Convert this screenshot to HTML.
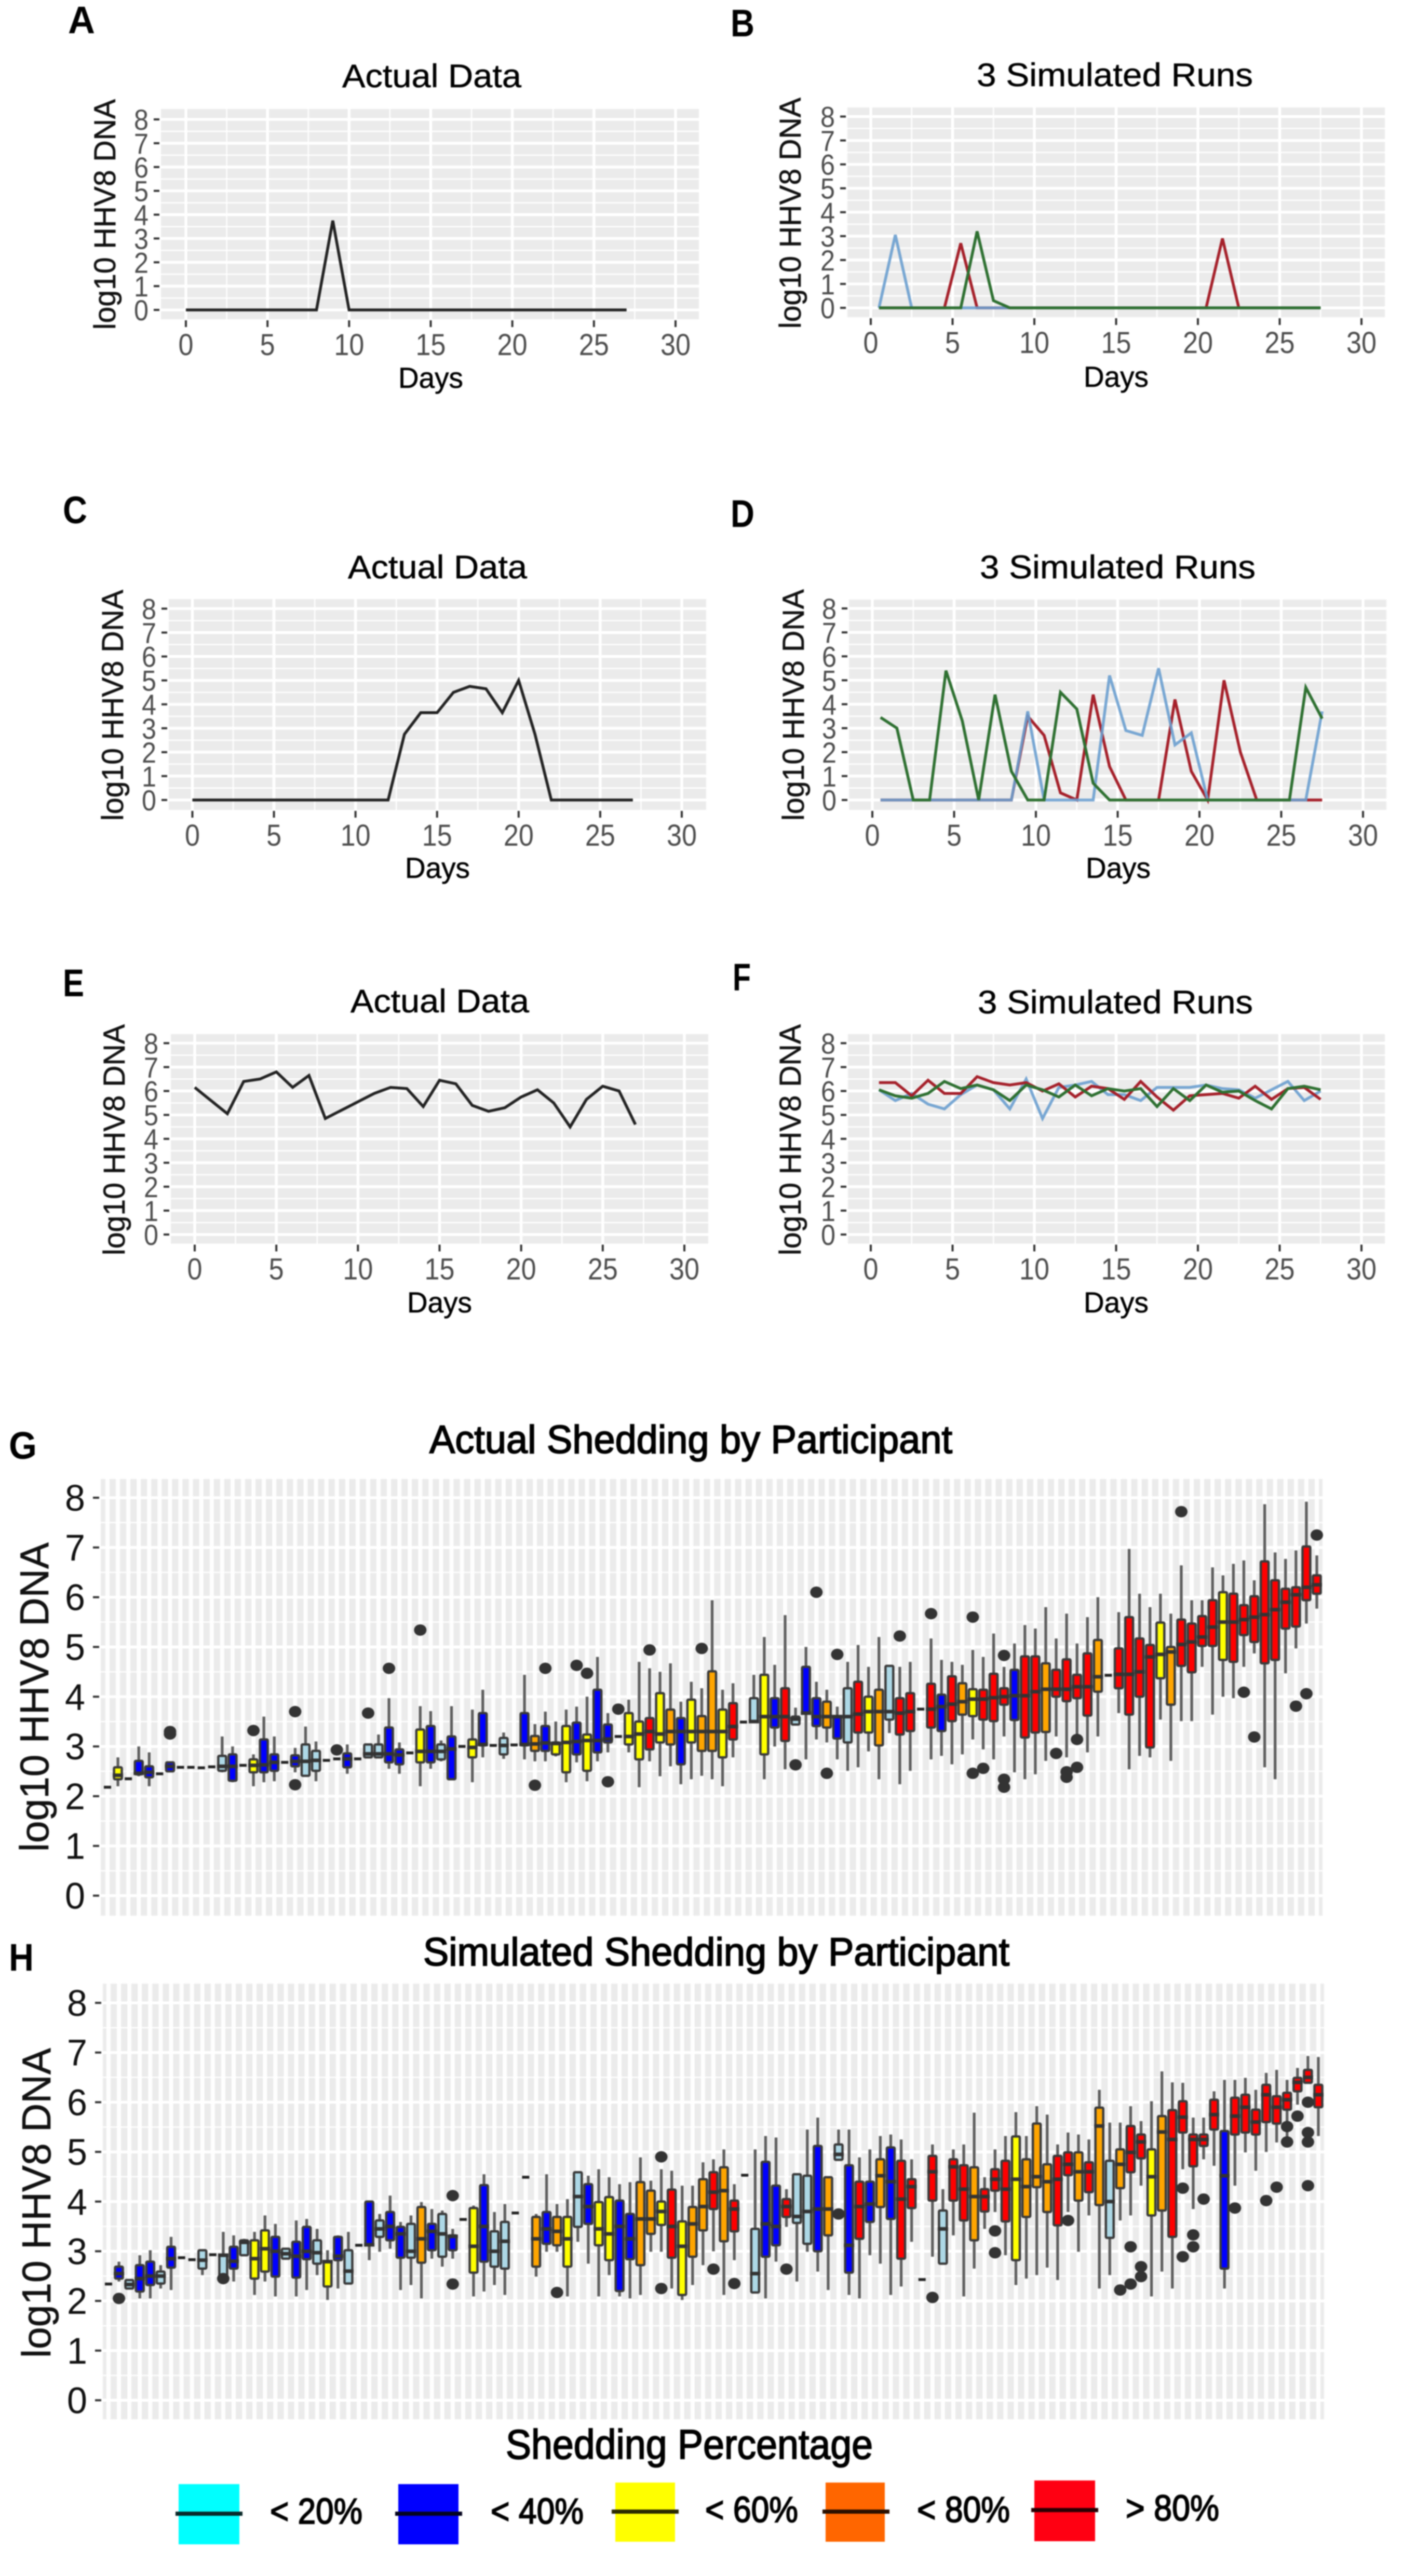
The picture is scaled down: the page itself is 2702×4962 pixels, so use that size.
<!DOCTYPE html>
<html lang="en">
<head>
<meta charset="utf-8">
<title>HHV8 shedding: actual and simulated</title>
<style>
html,body{margin:0;padding:0;background:#fff;}
svg{display:block;filter:blur(1.4px);font-family:"Liberation Sans",sans-serif;}
.letter{font-weight:bold;font-size:74px;fill:#000;}
.title{font-size:63px;fill:#000;stroke:#000;stroke-width:0.6px;}
.ylab{font-size:58px;fill:#111;stroke:#111;stroke-width:0.6px;}
.days{font-size:56px;fill:#000;stroke:#000;stroke-width:0.6px;}
.bigtitle{font-size:76px;fill:#000;stroke:#000;stroke-width:2px;}
.bigylab{font-size:78px;fill:#111;stroke:#111;stroke-width:0.6px;}
.legtitle{font-size:80px;fill:#000;stroke:#000;stroke-width:2px;}
.leglabel{font-size:70px;fill:#000;stroke:#000;stroke-width:2px;}
</style>
</head>
<body>
<svg id="figure" xmlns="http://www.w3.org/2000/svg" width="2702" height="4962" viewBox="0 0 2702 4962">
  <rect x="0" y="0" width="2702" height="4962" fill="#ffffff"/>
  <g id="marks"></g>

  <text class="letter" x="131" y="64" textLength="52" lengthAdjust="spacingAndGlyphs">A</text>
  <text class="letter" x="1407" y="70" textLength="46" lengthAdjust="spacingAndGlyphs">B</text>
  <text class="letter" x="121" y="1008" textLength="47" lengthAdjust="spacingAndGlyphs">C</text>
  <text class="letter" x="1407" y="1015" textLength="46" lengthAdjust="spacingAndGlyphs">D</text>
  <text class="letter" x="121" y="1919" textLength="41" lengthAdjust="spacingAndGlyphs">E</text>
  <text class="letter" x="1411" y="1908" textLength="35" lengthAdjust="spacingAndGlyphs">F</text>
  <text class="letter" x="17" y="2810" textLength="54" lengthAdjust="spacingAndGlyphs">G</text>
  <text class="letter" x="17" y="3796" textLength="48" lengthAdjust="spacingAndGlyphs">H</text>

  <text class="title" x="659" y="168" textLength="345" lengthAdjust="spacingAndGlyphs">Actual Data</text>
  <text class="title" x="1881" y="166" textLength="532" lengthAdjust="spacingAndGlyphs">3 Simulated Runs</text>
  <text class="title" x="670" y="1114" textLength="345" lengthAdjust="spacingAndGlyphs">Actual Data</text>
  <text class="title" x="1887" y="1114" textLength="531" lengthAdjust="spacingAndGlyphs">3 Simulated Runs</text>
  <text class="title" x="675" y="1950" textLength="344" lengthAdjust="spacingAndGlyphs">Actual Data</text>
  <text class="title" x="1883" y="1952" textLength="530" lengthAdjust="spacingAndGlyphs">3 Simulated Runs</text>

  <text class="ylab" transform="translate(222,635) rotate(-90)" textLength="444" lengthAdjust="spacingAndGlyphs">log10 HHV8 DNA</text>
  <text class="ylab" transform="translate(1542,633) rotate(-90)" textLength="445" lengthAdjust="spacingAndGlyphs">log10 HHV8 DNA</text>
  <text class="ylab" transform="translate(237,1581) rotate(-90)" textLength="445" lengthAdjust="spacingAndGlyphs">log10 HHV8 DNA</text>
  <text class="ylab" transform="translate(1548,1581) rotate(-90)" textLength="446" lengthAdjust="spacingAndGlyphs">log10 HHV8 DNA</text>
  <text class="ylab" transform="translate(240,2418) rotate(-90)" textLength="445" lengthAdjust="spacingAndGlyphs">log10 HHV8 DNA</text>
  <text class="ylab" transform="translate(1542,2418) rotate(-90)" textLength="445" lengthAdjust="spacingAndGlyphs">log10 HHV8 DNA</text>

  <text class="days" x="767" y="747" textLength="125" lengthAdjust="spacingAndGlyphs">Days</text>
  <text class="days" x="2087" y="745" textLength="125" lengthAdjust="spacingAndGlyphs">Days</text>
  <text class="days" x="780" y="1691" textLength="125" lengthAdjust="spacingAndGlyphs">Days</text>
  <text class="days" x="2091" y="1691" textLength="125" lengthAdjust="spacingAndGlyphs">Days</text>
  <text class="days" x="784" y="2528" textLength="125" lengthAdjust="spacingAndGlyphs">Days</text>
  <text class="days" x="2087" y="2528" textLength="125" lengthAdjust="spacingAndGlyphs">Days</text>

  <text class="bigtitle" x="827" y="2799" textLength="1007" lengthAdjust="spacingAndGlyphs">Actual Shedding by Participant</text>
  <text class="bigtitle" x="815" y="3786" textLength="1129" lengthAdjust="spacingAndGlyphs">Simulated Shedding by Participant</text>
  <text class="bigylab" transform="translate(93,3567) rotate(-90)" textLength="596" lengthAdjust="spacingAndGlyphs">log10 HHV8 DNA</text>
  <text class="bigylab" transform="translate(97,4542) rotate(-90)" textLength="597" lengthAdjust="spacingAndGlyphs">log10 HHV8 DNA</text>

  <g>
    <text class="legtitle" x="974" y="4736" textLength="707" lengthAdjust="spacingAndGlyphs">Shedding Percentage</text>
    <g>
      <rect x="344" y="4785" width="117" height="116" fill="#00FFFF"/>
      <rect x="338" y="4838" width="129" height="8" fill="#0a2a2a"/>
      <text class="leglabel" x="520" y="4861" textLength="178" lengthAdjust="spacingAndGlyphs">&lt; 20%</text>
    </g>
    <g>
      <rect x="767" y="4785" width="116" height="116" fill="#0000FF"/>
      <rect x="761" y="4838" width="129" height="8" fill="#05051f"/>
      <text class="leglabel" x="945" y="4861" textLength="179" lengthAdjust="spacingAndGlyphs">&lt; 40%</text>
    </g>
    <g>
      <rect x="1185" y="4782" width="115" height="114" fill="#FFFF00"/>
      <rect x="1178" y="4834" width="129" height="8" fill="#2a2a00"/>
      <text class="leglabel" x="1358" y="4858" textLength="179" lengthAdjust="spacingAndGlyphs">&lt; 60%</text>
    </g>
    <g>
      <rect x="1590" y="4782" width="114" height="114" fill="#FF6600"/>
      <rect x="1584" y="4834" width="129" height="8" fill="#2a1000"/>
      <text class="leglabel" x="1766" y="4858" textLength="179" lengthAdjust="spacingAndGlyphs">&lt; 80%</text>
    </g>
    <g>
      <rect x="1992" y="4778" width="117" height="117" fill="#FF0012"/>
      <rect x="1986" y="4831" width="129" height="8" fill="#2a0004"/>
      <text class="leglabel" x="2168" y="4855" textLength="180" lengthAdjust="spacingAndGlyphs">&gt; 80%</text>
    </g>
  </g>
</svg>

<script>
// ---------- shared tick labels ----------
const yTickLabels = [0, 1, 2, 3, 4, 5, 6, 7, 8];
const xTickLabels = [0, 5, 10, 15, 20, 25, 30];
const xMinorTicks = [2.5, 7.5, 12.5, 17.5, 22.5, 27.5];
const yMinorTicks = [0.5, 1.5, 2.5, 3.5, 4.5, 5.5, 6.5, 7.5];

// ---------- time-series data ----------
const actualDays = [0,1,2,3,4,5,6,7,8,9,10,11,12,13,14,15,16,17,18,19,20,21,22,23,24,25,26,27];
const simDays = [0.5,1.5,2.5,3.5,4.5,5.5,6.5,7.5,8.5,9.5,10.5,11.5,12.5,13.5,14.5,15.5,16.5,17.5,18.5,19.5,20.5,21.5,22.5,23.5,24.5,25.5,26.5,27.5];

const panelAActual = [0,0,0,0,0,0,0,0,0,3.75,0,0,0,0,0,0,0,0,0,0,0,0,0,0,0,0,0,0];
const panelBRed = [0,0,0,0,0,2.7,0,0,0,0,0,0,0,0,0,0,0,0,0,0,0,2.9,0,0,0,0,0,0];
const panelBBlue = [0,3.05,0,0,0,0,0,0,0,0,0,0,0,0,0,0,0,0,0,0,0,0,0,0,0,0,0,0];
const panelBGreen = [0,0,0,0,0,0,3.2,0.3,0,0,0,0,0,0,0,0,0,0,0,0,0,0,0,0,0,0,0,0];

const panelCActual = [0,0,0,0,0,0,0,0,0,0,0,0,0,2.75,3.65,3.65,4.5,4.75,4.65,3.65,5.0,2.75,0,0,0,0,0,0];
const panelDRed = [0,0,0,0,0,0,0,0,0,3.5,2.7,0.3,0,4.4,1.4,0,0,0,4.2,1.2,0,5.0,2.0,0,0,0,0,0];
const panelDBlue = [0,0,0,0,0,0,0,0,0,3.7,0,0,0,0,5.2,2.9,2.7,5.5,2.3,2.8,0,0,0,0,0,0,0,3.7];
const panelDGreen = [3.45,3.0,0,0,5.4,3.3,0,4.4,1.2,0,0,4.5,3.8,0.7,0,0,0,0,0,0,0,0,0,0,0,0,4.7,3.4];

const panelEActual = [6.15,5.6,5.05,6.4,6.5,6.8,6.15,6.65,4.85,5.2,5.55,5.9,6.15,6.1,5.35,6.45,6.3,5.4,5.15,5.3,5.75,6.05,5.5,4.5,5.65,6.2,6.0,4.6];
const panelFRed = [6.35,6.35,5.8,6.45,5.9,5.9,6.6,6.35,6.25,6.35,6.0,6.3,5.75,6.2,6.1,5.65,6.4,5.75,5.2,5.8,5.85,5.9,5.7,6.2,5.65,6.1,6.15,5.65];
const panelFBlue = [6.05,5.6,5.9,5.45,5.25,5.85,6.25,6.05,5.25,6.5,4.85,6.15,6.25,6.4,5.85,5.85,5.6,6.15,6.15,6.15,6.25,6.1,6.05,5.7,6.05,6.4,5.6,6.0];
const panelFGreen = [6.05,5.8,5.7,5.9,6.4,6.1,6.25,6.05,5.6,6.25,6.05,5.75,6.25,5.8,6.1,6.0,6.1,5.35,6.1,5.6,6.25,5.95,6.0,5.6,5.25,6.1,6.2,6.05];

// ---------- panel G boxplot data (one entry per participant) ----------
// band: 0 <20%, 1 <40%, 2 <60%, 3 <80%, 4 >80%
const gBand = [0,2,0,1,1,0,1,0,0,0, 0,0,1,0,2,1,1,0,1,0, 0,0,0,1,0,0,0,1,1,0, 2,1,0,1,0,2,1,0,0,0, 1,3,1,2,2,1,2,1,1,1, 2,2,4,2,3,1,2,3,3,2, 4,0,0,2,1,4,0,1,1,3, 1,0,4,2,3,0,4,4,0,4, 1,4,3,2,4,4,4,1,4,4, 3,4,4,4,4,3,0,4,4,4, 4,2,3,4,4,4,4,2,4,4, 4,4,4,4,4,4,4];
const gQ1 = [2.18,2.34,2.35,2.44,2.38,2.45,2.5,2.58,2.58,2.57,
2.59,2.51,2.31,2.62,2.48,2.48,2.51,2.68,2.6,2.41,
2.51,2.72,2.75,2.58,2.75,2.78,2.78,2.68,2.64,2.87,
2.68,2.68,2.74,2.34,3.0,2.78,3.02,3.02,2.84,3.03,
3.02,2.91,2.91,2.84,2.48,2.84,2.51,2.88,3.08,3.2,
3.04,2.74,2.94,3.08,3.04,2.64,3.08,2.91,2.91,2.78,
3.14,3.49,3.51,2.84,3.38,3.11,3.44,3.68,3.41,3.38,
3.16,3.08,3.28,3.28,3.02,3.54,3.24,3.31,3.75,3.38,
3.31,3.51,3.64,3.61,3.54,3.51,3.84,3.53,3.18,3.28,
3.29,4.0,3.91,3.97,3.62,4.1,4.43,4.17,3.64,4.0,
2.98,4.37,3.84,4.62,4.49,5.02,5.02,4.74,4.7,5.24,
5.1,4.67,4.74,5.37,5.41,5.94,6.07];
const gMedian = [2.18,2.42,2.35,2.46,2.48,2.45,2.6,2.58,2.58,2.57,
2.59,2.6,2.6,2.62,2.62,2.63,2.68,2.68,2.7,2.7,
2.72,2.72,2.75,2.75,2.75,2.85,2.85,2.85,2.83,2.87,
2.9,2.9,2.9,2.95,3.0,2.98,3.04,3.02,3.02,3.03,
3.04,3.05,3.07,3.06,3.08,3.1,3.12,3.12,3.15,3.2,
3.2,3.25,3.3,3.25,3.3,3.3,3.3,3.3,3.3,3.3,
3.4,3.49,3.5,3.6,3.6,3.6,3.55,3.67,3.6,3.6,
3.6,3.6,3.65,3.7,3.7,3.7,3.67,3.7,3.75,3.75,
3.8,3.85,3.9,3.95,3.95,3.98,4.0,4.02,4.02,4.1,
4.15,4.15,4.15,4.2,4.2,4.4,4.43,4.45,4.45,4.5,
4.8,4.85,4.9,5.05,5.1,5.2,5.4,5.5,5.5,5.55,
5.6,5.65,5.75,5.9,6.05,6.2,6.25];
const gQ3 = [2.18,2.58,2.35,2.71,2.6,2.45,2.68,2.58,2.58,2.57,
2.59,2.81,2.84,2.62,2.74,3.14,2.84,2.68,2.82,3.04,
2.91,2.72,2.75,2.86,2.75,3.04,3.04,3.38,2.94,2.87,
3.34,3.41,3.04,3.2,3.0,3.14,3.67,3.02,3.17,3.03,
3.67,3.21,3.41,3.08,3.41,3.48,3.24,4.14,3.44,3.2,
3.67,3.5,3.57,4.07,3.74,3.57,3.94,3.61,4.51,3.74,
3.87,3.49,3.97,4.44,3.97,4.17,3.6,4.6,3.97,3.9,
3.6,4.17,4.3,4.0,4.14,4.62,3.97,4.07,3.75,4.26,
4.04,4.41,4.27,4.15,4.14,4.46,4.17,4.54,4.81,4.81,
4.67,4.54,4.75,4.44,4.87,5.14,4.43,4.97,5.6,5.17,
5.04,5.49,5.0,5.55,5.47,5.62,5.94,6.1,6.07,5.84,
6.02,6.72,6.34,6.17,6.2,7.02,6.44];
const gLow = [2.18,2.2,2.35,2.4,2.2,2.45,2.5,2.58,2.58,2.57,
2.59,2.48,2.28,2.62,2.2,2.28,2.3,2.68,2.48,2.41,
2.3,2.72,2.75,2.45,2.75,2.78,2.78,2.55,2.45,2.87,
2.2,2.55,2.7,2.34,3.0,2.28,2.78,3.02,2.75,3.03,
2.74,2.7,2.7,2.8,2.28,2.68,2.3,2.7,2.88,3.2,
2.88,2.18,2.7,2.4,2.6,2.24,2.34,2.41,2.34,2.2,
2.78,3.49,3.51,2.34,3.0,2.54,3.44,2.74,3.14,3.08,
2.74,2.51,2.58,2.9,2.34,3.27,2.24,2.51,3.75,2.74,
2.81,2.64,2.84,3.14,2.94,2.74,3.2,2.48,2.34,2.44,
2.71,3.2,2.78,3.24,2.88,3.2,4.43,3.67,2.54,2.81,
2.78,3.54,2.71,3.51,3.51,4.6,3.64,4.0,3.97,4.6,
4.87,2.58,2.34,4.47,4.97,5.47,5.77];
const gHigh = [2.18,2.78,2.35,3.0,2.88,2.45,2.68,2.58,2.58,2.57,
2.59,3.2,3.0,2.62,2.84,3.6,3.2,2.68,2.97,3.4,
3.1,2.72,2.75,3.04,2.75,3.04,3.24,3.97,3.08,2.87,
3.81,3.71,3.12,3.81,3.0,3.74,4.14,3.02,3.28,3.03,
4.44,3.45,3.7,3.5,3.74,3.8,4.0,4.8,3.67,3.2,
3.94,4.7,4.57,4.5,4.67,3.9,4.3,4.17,5.94,4.14,
4.27,3.49,4.44,5.2,4.64,5.64,3.78,5.0,4.3,4.14,
3.8,4.7,5.04,4.6,5.2,4.62,4.6,4.7,3.75,5.17,
4.74,4.7,4.64,4.94,4.8,5.27,4.6,5.07,5.44,5.37,
5.8,5.17,5.67,5.07,5.6,6.0,4.43,5.7,6.97,6.07,
5.8,6.07,5.67,6.64,5.94,5.94,6.6,6.44,6.67,6.74,
6.34,7.87,6.9,6.77,6.94,7.92,6.84];
const gOutlierParticipant = [6,6,14,18,18,22,25,27,30,41,42,45,46,48,49,52,57,66,68,69,70,76,79,83,83,84,86,86,86,91,92,92,93,93,103,109,110,114,115,116];
const gOutlierValue = [3.25,3.3,3.32,3.7,2.23,2.93,3.67,4.57,5.34,2.22,4.57,4.63,4.47,2.29,3.75,4.94,4.97,2.63,6.1,2.46,4.85,5.22,5.67,5.6,2.46,2.56,4.83,2.34,2.18,2.86,2.49,2.38,3.14,2.58,7.72,4.09,3.19,3.81,4.06,7.25];

// ---------- panel H boxplot data ----------
const hBand = [0,1,0,1,1,0,1,0,0,0, 0,0,1,0,2,2,1,0,1,1, 0,2,1,0,0,1,0,1,1,0, 3,1,0,1,0,2,1,0,0,0, 0,3,1,3,2,0,1,2,2,1, 1,3,3,2,4,2,3,3,4,3, 4,0,0,1,1,4,0,0,1,3, 0,1,4,1,3,1,4,4,0,4, 0,4,4,3,4,4,4,2,3,3, 3,4,4,3,4,3,0,3,4,4, 2,3,4,4,4,4,4,1,4,4, 4,4,4,4,4,4,4];
const hQ1 = [2.34,2.45,2.25,2.19,2.32,2.35,2.67,2.87,2.83,2.65,
2.93,2.39,2.65,2.92,2.45,2.59,2.49,2.85,2.47,2.84,
2.75,2.29,2.82,2.35,3.12,3.13,3.29,3.22,2.87,2.87,
2.77,3.02,2.89,3.02,3.64,2.57,2.79,2.69,2.65,3.77,
4.49,2.69,3.15,3.12,2.69,3.49,3.55,3.12,2.82,2.2,
2.84,2.72,3.35,3.53,2.87,2.12,2.89,3.42,3.85,3.2,
3.4,4.53,2.17,2.89,3.12,3.69,3.57,3.15,3.0,3.32,
4.84,2.57,3.25,3.59,3.89,3.65,2.85,3.87,2.43,4.02,
2.75,4.02,3.62,3.22,3.8,4.22,3.6,2.82,3.69,4.29,
3.79,3.52,4.53,4.02,4.19,3.93,3.27,4.27,4.59,4.87,
3.72,3.82,3.29,5.39,4.71,5.12,5.45,2.65,5.35,5.39,
5.35,5.6,5.57,5.85,6.22,6.39,5.9];
const hMedian = [2.34,2.55,2.33,2.45,2.5,2.5,2.85,2.87,2.83,2.82,
2.93,2.92,2.8,3.18,2.85,3.05,3.0,2.95,2.9,3.0,
2.97,2.79,2.9,2.6,3.12,3.13,3.45,3.5,3.35,3.0,
3.25,3.4,3.35,3.3,3.64,3.1,3.5,3.0,3.2,3.77,
4.49,3.25,3.45,3.4,3.25,4.1,3.9,3.45,3.35,3.5,
3.25,3.65,3.65,3.8,3.5,3.1,3.55,3.9,4.19,4.22,
3.85,4.53,2.55,3.55,3.5,3.9,3.7,3.8,3.85,3.85,
4.95,3.12,3.9,3.95,4.52,4.4,4.05,4.3,2.43,4.6,
3.45,4.7,4.25,4.1,4.1,4.45,4.25,4.45,4.3,4.5,
4.4,4.45,4.75,4.6,4.6,5.52,4.0,4.75,4.99,5.2,
4.5,5.4,5.25,5.7,5.25,5.25,5.75,4.52,5.72,5.9,
5.6,6.15,5.9,6.05,6.4,6.5,6.15];
const hQ3 = [2.34,2.69,2.42,2.72,2.79,2.59,3.09,2.87,2.83,3.02,
2.93,2.92,3.09,3.22,3.22,3.42,3.29,3.05,3.19,3.49,
3.22,2.79,3.29,3.02,3.12,4.0,3.62,3.79,3.49,3.55,
3.89,3.55,3.75,3.32,3.64,3.87,4.33,3.4,3.59,3.77,
4.49,3.69,3.79,3.69,3.69,4.59,4.35,3.99,4.09,4.02,
3.75,4.39,4.22,4.0,4.24,3.6,3.89,4.45,4.59,4.69,
4.02,4.53,3.45,4.8,4.32,4.05,4.55,4.52,5.12,4.49,
5.15,4.73,4.4,4.4,4.85,5.09,4.82,4.45,2.43,4.92,
3.82,4.85,4.73,4.69,4.25,4.65,4.82,5.31,4.85,5.57,
4.75,4.92,4.99,4.99,4.79,5.89,4.82,5.05,5.52,5.35,
5.05,5.72,5.84,6.02,5.35,5.35,6.05,5.42,6.09,6.15,
5.85,6.35,6.12,6.19,6.49,6.65,6.35];
const hLow = [2.34,2.39,2.25,2.05,2.05,2.25,2.22,2.87,2.83,2.52,
2.93,2.39,2.39,2.92,2.12,2.39,2.09,2.85,2.09,2.22,
2.52,2.02,2.25,2.35,3.12,2.82,2.99,3.05,2.22,2.32,
2.05,2.85,2.69,2.85,3.64,2.09,2.19,2.32,2.12,3.77,
4.49,2.49,2.99,2.99,2.09,3.19,2.75,2.09,2.52,2.09,
2.05,2.12,2.99,2.99,2.25,2.02,2.32,2.72,3.0,2.12,
2.82,4.53,2.17,2.05,2.79,3.49,2.39,2.99,2.59,2.22,
4.84,2.12,2.05,2.92,2.75,2.12,2.29,3.19,2.43,2.89,
2.75,3.32,2.09,2.65,3.45,3.79,2.92,2.32,2.45,2.52,
2.67,2.42,3.79,2.99,3.72,2.25,2.52,3.62,3.72,4.32,
2.09,2.59,2.25,4.65,3.85,4.85,4.72,2.25,4.32,4.99,
4.62,5.0,5.19,5.2,5.95,6.39,5.32];
const hHigh = [2.34,2.79,2.42,2.92,3.02,2.72,3.29,2.87,2.83,3.02,
2.93,3.39,3.32,3.25,3.39,3.72,3.55,3.05,3.62,3.65,
3.45,3.02,3.32,3.39,3.12,4.0,3.75,4.12,3.59,3.72,
3.99,3.85,3.82,3.45,3.64,3.92,4.55,3.79,3.95,3.77,
4.49,3.75,4.55,3.95,4.05,4.59,4.52,4.65,4.49,4.35,
4.39,4.89,4.42,4.65,4.62,4.32,4.32,4.79,4.85,5.05,
4.35,4.53,5.05,5.32,5.29,4.25,4.55,5.45,5.69,4.49,
5.45,5.45,4.89,5.05,5.32,5.35,5.25,4.85,2.43,5.15,
4.25,5.05,5.15,5.79,4.49,5.05,5.32,5.8,5.32,5.92,
5.75,5.15,5.39,5.35,5.25,6.25,5.59,5.59,5.92,5.62,
6.02,6.62,6.4,6.39,5.69,5.69,6.22,6.45,6.45,6.49,
6.25,6.59,6.65,6.45,6.69,6.93,6.91];
const hOutlierParticipant = [1,11,33,33,43,53,53,58,60,65,70,79,85,85,92,97,98,98,99,99,103,103,104,104,105,108,111,112,113,113,114,115,115,115,115];
const hOutlierValue = [2.05,2.45,4.12,2.34,2.17,4.9,2.25,2.64,2.35,2.64,3.75,2.07,3.41,2.97,3.62,2.22,3.09,2.34,2.69,2.49,4.27,2.89,3.33,3.09,4.05,3.87,4.02,4.29,5.51,5.2,5.72,6.0,5.39,5.2,4.32];

// ---------- style ----------
const bandFill = ['#ADD8E6', '#0000FF', '#FFFF00', '#FFA500', '#FF0000'];
const runColor = {red: '#A5202A', blue: '#6A9FCF', green: '#2E7031'};

const SVGNS = 'http://www.w3.org/2000/svg';
const marks = document.getElementById('marks');

function make(tag, attrs, parent) {
  const node = document.createElementNS(SVGNS, tag);
  for (const key in attrs) node.setAttribute(key, attrs[key]);
  parent.appendChild(node);
  return node;
}

function linearScale(d0, r0, d1, r1) {
  return function (v) { return r0 + (v - d0) * (r1 - r0) / (d1 - d0); };
}

function drawYAxis(g, box, yScale, tickFill, fontSize, labelGap, tickLen, tickGap, baseShift, digitWidth) {
  yTickLabels.forEach(function (v) {
    const tick = make('line', {x1: box.left - tickGap - tickLen, x2: box.left - tickGap, y1: yScale(v), y2: yScale(v), stroke: '#333', 'stroke-width': 4}, g);
    
    
    const label = make('text', {x: box.left - labelGap, y: yScale(v) + baseShift, 'text-anchor': 'end', 'font-size': fontSize, fill: tickFill, textLength: digitWidth, lengthAdjust: 'spacingAndGlyphs'}, g);
    label.textContent = String(v);
    
    
  });
}

function drawHorizontalGrid(g, box, yScale) {
  yMinorTicks.forEach(function (v) {
    const line = make('line', {x1: box.left, x2: box.right, y1: yScale(v), y2: yScale(v), stroke: '#fff', 'stroke-width': 2.5}, g);
    
    
  });
  yTickLabels.forEach(function (v) {
    const line = make('line', {x1: box.left, x2: box.right, y1: yScale(v), y2: yScale(v), stroke: '#fff', 'stroke-width': 5.5}, g);
    
    
  });
}

function drawPanelBackground(g, box) {
  const bg = make('rect', {x: box.left, y: box.top, width: box.right - box.left, height: box.bottom - box.top, fill: '#EBEBEB'}, g);
  
  
}

function drawLineSeries(g, name, xs, ys, xScale, yScale, color, opacity) {
  const pts = xs.map(function (x, i) { return xScale(x).toFixed(1) + ',' + yScale(ys[i]).toFixed(1); }).join(' ');
  const line = make('polyline', {points: pts, fill: 'none', stroke: color, 'stroke-width': 5.5, 'stroke-linejoin': 'miter', 'stroke-opacity': opacity}, g);
  
  
}

function drawLinePanel(spec) {
  const g = make('g', {}, marks);
  
  
  const box = spec.box;
  const xScale = linearScale(0, spec.x0, 30, spec.x30);
  const yScale = linearScale(0, spec.y0, 8, spec.y8);
  drawPanelBackground(g, box);
  drawHorizontalGrid(g, box, yScale);
  xMinorTicks.forEach(function (v) {
    const line = make('line', {x1: xScale(v), x2: xScale(v), y1: box.top, y2: box.bottom, stroke: '#fff', 'stroke-width': 2.5}, g);
    
    
  });
  xTickLabels.forEach(function (v) {
    const line = make('line', {x1: xScale(v), x2: xScale(v), y1: box.top, y2: box.bottom, stroke: '#fff', 'stroke-width': 5.5}, g);
    
    
    const tick = make('line', {x1: xScale(v), x2: xScale(v), y1: box.bottom + 2, y2: box.bottom + 15, stroke: '#333', 'stroke-width': 4}, g);
    
    
    const label = make('text', {x: xScale(v), y: box.bottom + 69, 'text-anchor': 'middle', 'font-size': 58, fill: '#4d4d4d', textLength: String(v).length * 29, lengthAdjust: 'spacingAndGlyphs'}, g);
    label.textContent = String(v);
    
    
  });
  drawYAxis(g, box, yScale, '#4d4d4d', 56, 24, 11, 3, 20, 28);
  spec.series.forEach(function (s) {
    drawLineSeries(g, s.name, s.xs, s.ys, xScale, yScale, s.color, s.opacity);
  });
}

function drawBoxPanel(spec) {
  const g = make('g', {}, marks);
  
  
  const box = spec.box;
  const yScale = linearScale(0, spec.y0, 8, spec.y8);
  const count = spec.band.length;
  const xScale = linearScale(0, spec.firstX, count - 1, spec.lastX);
  drawPanelBackground(g, box);
  drawHorizontalGrid(g, box, yScale);
  spec.band.forEach(function (b, i) {
    const line = make('line', {x1: xScale(i), x2: xScale(i), y1: box.top, y2: box.bottom, stroke: '#fff', 'stroke-opacity': 0.95, 'stroke-width': 8}, g);
    
    
  });
  drawYAxis(g, box, yScale, '#111', 71, 30, 12, 3, 25, 39);
  spec.band.forEach(function (b, i) {
    const x = xScale(i);
    const group = make('g', {}, g);
    
    
    if (spec.high[i] > spec.low[i]) {
      const whisker = make('line', {x1: x, x2: x, y1: yScale(spec.high[i]), y2: yScale(spec.low[i]), stroke: '#5e5e5e', 'stroke-width': 5.5}, group);
      
      
    }
    const flat = !(spec.q3[i] > spec.q1[i]);
    if (!flat) {
      const top = yScale(spec.q3[i]);
      const rect = make('rect', {x: x - 7.5, y: top, width: 15, height: yScale(spec.q1[i]) - top, rx: 2, fill: bandFill[b], stroke: '#3a3a3a', 'stroke-width': 4.5}, group);
      
      
    }
    const half = flat ? 7 : 10;
    const median = make('line', {x1: x - half, x2: x + half, y1: yScale(spec.median[i]), y2: yScale(spec.median[i]), stroke: flat ? '#222' : '#333', 'stroke-width': flat ? 5.5 : 7}, group);
    
    
  });
  spec.outlierParticipant.forEach(function (p, k) {
    const dot = make('ellipse', {cx: xScale(p), cy: yScale(spec.outlierValue[k]), rx: 12, ry: 11, fill: '#333'}, g);
    
    
  });
}

drawLinePanel({name: 'panel-a-chart', box: {left: 310, right: 1346, top: 210, bottom: 615}, x0: 358, x30: 1301, y0: 597, y8: 230,
  series: [{name: 'actual-line', xs: actualDays, ys: panelAActual, color: '#222', opacity: 1}]});
drawLinePanel({name: 'panel-b-chart', box: {left: 1632, right: 2667, top: 207, bottom: 611}, x0: 1677, x30: 2622, y0: 593, y8: 224.5,
  series: [
    {name: 'run-red-line', xs: simDays, ys: panelBRed, color: runColor.red, opacity: 1},
    {name: 'run-blue-line', xs: simDays, ys: panelBBlue, color: runColor.blue, opacity: 0.9},
    {name: 'run-green-line', xs: simDays, ys: panelBGreen, color: runColor.green, opacity: 1}
  ]});
drawLinePanel({name: 'panel-c-chart', box: {left: 325, right: 1360, top: 1154, bottom: 1560}, x0: 370.5, x30: 1313, y0: 1541, y8: 1172.4,
  series: [{name: 'actual-line', xs: actualDays, ys: panelCActual, color: '#222', opacity: 1}]});
drawLinePanel({name: 'panel-d-chart', box: {left: 1635, right: 2670, top: 1155, bottom: 1560}, x0: 1680, x30: 2625, y0: 1541, y8: 1172,
  series: [
    {name: 'run-red-line', xs: simDays, ys: panelDRed, color: runColor.red, opacity: 1},
    {name: 'run-blue-line', xs: simDays, ys: panelDBlue, color: runColor.blue, opacity: 0.9},
    {name: 'run-green-line', xs: simDays, ys: panelDGreen, color: runColor.green, opacity: 1}
  ]});
drawLinePanel({name: 'panel-e-chart', box: {left: 329, right: 1364, top: 1992, bottom: 2395.5}, x0: 375, x30: 1318, y0: 2378, y8: 2009.4,
  series: [{name: 'actual-line', xs: actualDays, ys: panelEActual, color: '#222', opacity: 1}]});
drawLinePanel({name: 'panel-f-chart', box: {left: 1633, right: 2667, top: 1992, bottom: 2395.5}, x0: 1677, x30: 2622, y0: 2378, y8: 2009.4,
  series: [
    {name: 'run-blue-line', xs: simDays, ys: panelFBlue, color: runColor.blue, opacity: 0.9},
    {name: 'run-red-line', xs: simDays, ys: panelFRed, color: runColor.red, opacity: 1},
    {name: 'run-green-line', xs: simDays, ys: panelFGreen, color: runColor.green, opacity: 1}
  ]});

drawBoxPanel({name: 'panel-g-chart', box: {left: 194, right: 2547, top: 2849, bottom: 3690}, y0: 3651.5, y8: 2885, firstX: 207, lastX: 2536,
  band: gBand, q1: gQ1, median: gMedian, q3: gQ3, low: gLow, high: gHigh, outlierParticipant: gOutlierParticipant, outlierValue: gOutlierValue});
drawBoxPanel({name: 'panel-h-chart', box: {left: 198, right: 2550, top: 3821, bottom: 4660}, y0: 4623.5, y8: 3858, firstX: 209, lastX: 2539,
  band: hBand, q1: hQ1, median: hMedian, q3: hQ3, low: hLow, high: hHigh, outlierParticipant: hOutlierParticipant, outlierValue: hOutlierValue});
</script>
</body>
</html>
